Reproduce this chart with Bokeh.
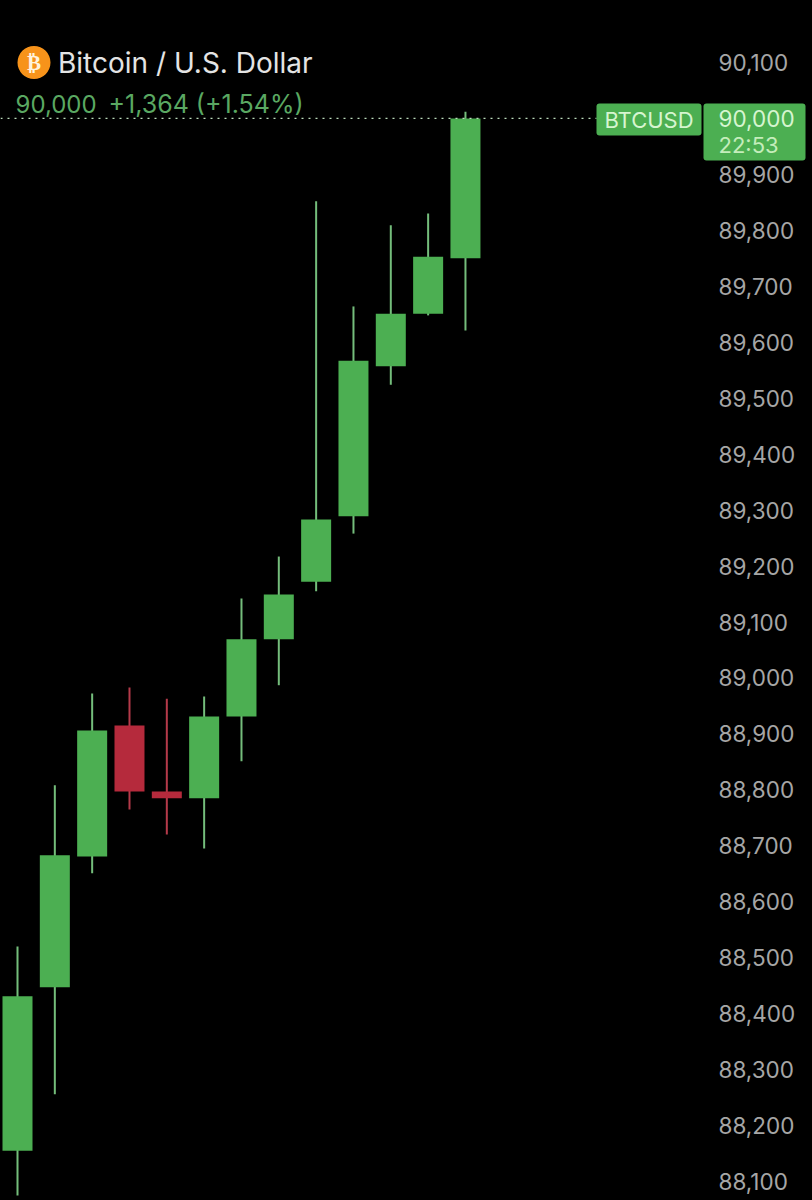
from bokeh.plotting import figure
from bokeh.models import (ColumnDataSource, LinearAxis, FixedTicker, CustomJSTickFormatter,
                          Label, BoxAnnotation, Range1d)
from bokeh.embed import file_html
from bokeh.resources import INLINE

highs  = [88520, 88808, 88972, 88983, 88963, 88967, 89142, 89217, 89852, 89664, 89809, 89830, 90012]
opens  = [88155, 88447, 88681, 88915, 88797, 88785, 88931, 89069, 89172, 89289, 89557, 89651, 89750]
closes = [88431, 88683, 88906, 88797, 88785, 88931, 89069, 89149, 89283, 89567, 89651, 89753, 90000]
lows   = [88075, 88256, 88651, 88765, 88720, 88695, 88851, 88987, 89155, 89258, 89524, 89648, 89621]
ticks  = [88100, 88200, 88300, 88400, 88500, 88600, 88700, 88800, 88900, 89000,
          89100, 89200, 89300, 89400, 89500, 89600, 89700, 89800, 89900, 90100]
last_price = 90000
title = "Bitcoin / U.S. Dollar"
quote_price = "90,000"
quote_change = "+1,364 (+1.54%)"
tag_name = "BTCUSD"
tag_price = "90,000"
tag_time = "22:53"

GREEN, RED, BG = "#4caf52", "#b52a3c", "#000000"
WICK_G, WICK_R = "#74bd7b", "#b53a4a"
FONT = "Inter"
W, H = 812, 1200
FRAME_W = 807          # frame runs nearly to the edge; axis labels are pulled back inside it
LABEL_X = 718
PX_PER_USD, SLOT = 0.5595, 37.33

idx = list(range(len(opens)))
src = ColumnDataSource(dict(
    x=idx, high=highs, low=lows,
    top=[max(a, b) for a, b in zip(opens, closes)],
    bottom=[min(a, b) for a, b in zip(opens, closes)],
    color=[GREEN if c >= o else RED for o, c in zip(opens, closes)],
    wick=[WICK_G if c >= o else WICK_R for o, c in zip(opens, closes)],
))

x_left, x_right = -17 / SLOT, (FRAME_W - 17) / SLOT
p = figure(width=W, height=H, output_backend="svg", toolbar_location=None,
           x_range=Range1d(x_left, x_right),
           y_range=Range1d(90100 - (H - 62) / PX_PER_USD, 90100 + 62 / PX_PER_USD),
           x_axis_location=None, y_axis_location=None,
           min_border=0, min_border_left=0, min_border_right=W - FRAME_W, min_border_top=0, min_border_bottom=0,
           background_fill_color=BG, border_fill_color=BG, outline_line_color=None)
p.grid.visible = False

p.segment("x", "high", "x", "low", source=src, color="wick", line_width=2)
p.vbar("x", top="top", bottom="bottom", width=30 / SLOT, source=src,
       fill_color="color", line_color=None)

# dotted last-price line, ending at the BTCUSD tag
p.line([x_left, (596 - 17) / SLOT], [last_price, last_price],
       line_color="#bcdcbc", line_width=1.2, line_dash="2 5")

axis = LinearAxis(ticker=FixedTicker(ticks=ticks),
                  formatter=CustomJSTickFormatter(code="return tick.toLocaleString('en-US')"),
                  axis_line_color=None, major_tick_line_color=None, minor_tick_line_color=None,
                  major_tick_out=0, major_tick_in=0,
                  major_label_text_color="#a6a6a6", major_label_text_font=FONT,
                  major_label_text_font_size="22.5px", major_label_standoff=LABEL_X - FRAME_W,
                  major_label_text_align="left")
p.add_layout(axis, "right")

def scr_y(v):
    return H - v

def box(l, r, t, b, color, radius):
    p.add_layout(BoxAnnotation(left=l, right=r, top=scr_y(t), bottom=scr_y(b),
                               left_units="screen", right_units="screen", top_units="screen", bottom_units="screen",
                               fill_color=color, fill_alpha=1, line_color=None, border_radius=radius))

def label(x, y, text, color, size, align="left", style="normal", font=FONT):
    p.add_layout(Label(x=x, y=scr_y(y), x_units="screen", y_units="screen", text=text,
                       text_color=color, text_font_size=size, text_font=font, text_align=align,
                       text_baseline="middle", text_font_style=style))

# header
box(17, 50, 45.5, 78.5, "#f7931a", 17)
label(33.5, 62, "\u20bf", "#fff3dc", "21px", "center", "bold", "DejaVu Sans")
label(57.5, 62, title, "#e4e4e4", "28px")
label(15, 103, quote_price, "#5aa862", "24px")
label(108, 103, quote_change, "#5aa862", "25px")

# price tags
box(596, 701, 103, 135, GREEN, 3)
box(703, 805, 103, 160, GREEN, 3)
label(648.5, 119, tag_name, "#d6f5d0", "22px", "center")
label(LABEL_X, 118, tag_price, "#d6f5d0", "22.5px")
label(LABEL_X, 144, tag_time, "#c4edbb", "22px")

html = file_html(p, INLINE).replace("<head>", "<head><style>html,body{margin:0;padding:0;background:#000}</style>", 1)
open("out.html", "w").write(html)
